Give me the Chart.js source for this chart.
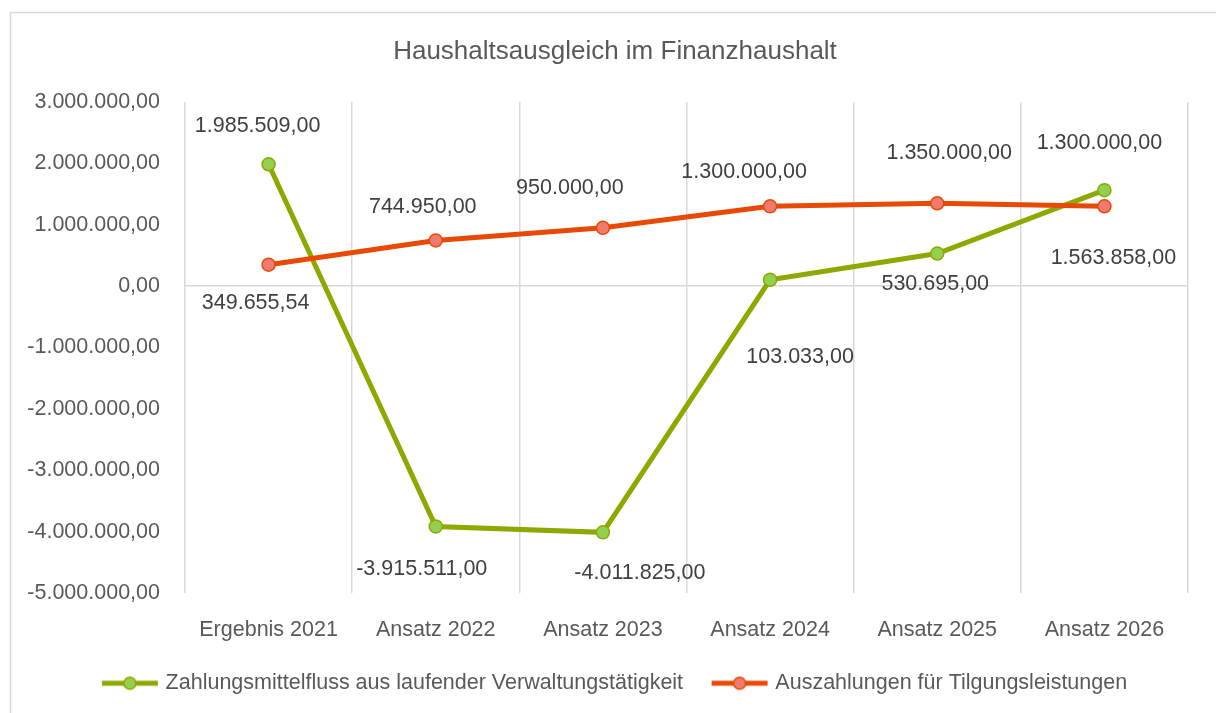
<!DOCTYPE html>
<html>
<head>
<meta charset="utf-8">
<script src="https://cdn.jsdelivr.net/npm/chart.js@4/dist/chart.umd.min.js"></script>
<style>
html,body{margin:0;padding:0;background:#fff;}
#wrap{position:relative;width:1216px;height:713px;}
</style>
</head>
<body>
<div id="wrap"><canvas id="c" width="1216" height="713"></canvas></div>
<script>
// ---- data ----
const categories = ['Ergebnis 2021','Ansatz 2022','Ansatz 2023','Ansatz 2024','Ansatz 2025','Ansatz 2026'];
const zahlungsmittelfluss = [1985509.00, -3915511.00, -4011825.00, 103033.00, 530695.00, 1563858.00];
const tilgungsleistungen = [349655.54, 744950.00, 950000.00, 1300000.00, 1350000.00, 1300000.00];
const seriesNames = ['Zahlungsmittelfluss aus laufender Verwaltungstätigkeit', 'Auszahlungen für Tilgungsleistungen'];
const yMin = -5000000, yMax = 3000000, yStep = 1000000;

// label placement offsets (pixels relative to point)
const greenLabelOffsets = [[-11,-38],[-14,43],[37,41],[30,77],[-2,31],[9,68]];
const orangeLabelOffsets = [[-13,38],[-13,-33],[-33,-40],[-26,-34],[12,-50],[-5,-63]];

const FONT = "'Liberation Sans', Arial, sans-serif";
const FS = 21.5;
const GREEN = '#8FA800', GREEN_FILL = '#92D050';
const ORANGE = '#E84A05', ORANGE_FILL = '#EE7B6E';
const fmt = v => v.toLocaleString('de-DE', {minimumFractionDigits: 2, maximumFractionDigits: 2});

function legendIcon(line, fill) {
  const cv = document.createElement('canvas');
  cv.width = 58; cv.height = 16;
  const g = cv.getContext('2d');
  g.strokeStyle = line; g.lineWidth = 5; g.lineCap = 'butt';
  g.beginPath(); g.moveTo(1, 8); g.lineTo(57, 8); g.stroke();
  g.beginPath(); g.arc(29, 8, 6, 0, Math.PI*2);
  g.fillStyle = fill; g.fill(); g.lineWidth = 1.5; g.strokeStyle = line; g.stroke();
  return cv;
}
const icons = [legendIcon(GREEN, GREEN_FILL), legendIcon(ORANGE, ORANGE_FILL)];
const labelOffsets = [greenLabelOffsets, orangeLabelOffsets];

const framePlugin = {
  id: 'frame',
  afterLayout(chart) {
    if (chart.legend) { chart.legend.left += 17; chart.legend.right += 17; }
    if (chart.titleBlock) { chart.titleBlock.left += 16; chart.titleBlock.right += 16; }
  },
  beforeDraw(chart) {
    const ctx = chart.ctx;
    ctx.save();
    ctx.strokeStyle = '#d9d9d9'; ctx.lineWidth = 1.5;
    ctx.strokeRect(10.5, 12.5, 1400, 900);
    ctx.restore();
  }
};
const labelPlugin = {
  id: 'valueLabels',
  afterDatasetsDraw(chart) {
    const ctx = chart.ctx;
    ctx.save();
    ctx.font = FS + 'px ' + FONT;
    ctx.fillStyle = '#404040';
    ctx.textAlign = 'center'; ctx.textBaseline = 'middle';
    chart.data.datasets.forEach((ds, di) => {
      const meta = chart.getDatasetMeta(di);
      meta.data.forEach((pt, i) => {
        const off = labelOffsets[di][i];
        ctx.fillText(fmt(ds.data[i]), pt.x + off[0], pt.y + off[1]);
      });
    });
    ctx.restore();
  }
};

new Chart(document.getElementById('c'), {
  type: 'line',
  data: {
    labels: categories,
    datasets: [
      { label: seriesNames[0], data: zahlungsmittelfluss, borderColor: GREEN, backgroundColor: GREEN_FILL,
        borderWidth: 5, pointRadius: 6.5, pointBorderWidth: 1.5, pointBorderColor: GREEN, pointBackgroundColor: GREEN_FILL,
        tension: 0, order: 1 },
      { label: seriesNames[1], data: tilgungsleistungen, borderColor: ORANGE, backgroundColor: ORANGE_FILL,
        borderWidth: 5, pointRadius: 6.5, pointBorderWidth: 1.5, pointBorderColor: ORANGE, pointBackgroundColor: ORANGE_FILL,
        tension: 0, order: 0 }
    ]
  },
  options: {
    responsive: false,
    animation: false,
    layout: { padding: { left: 10, right: 28, top: 0, bottom: 9 } },
    plugins: {
      title: { display: true, text: 'Haushaltsausgleich im Finanzhaushalt', color: '#595959',
        font: { family: FONT, size: 26, weight: 'normal' }, padding: { top: 36.4, bottom: 34.4 } },
      legend: { position: 'bottom',
        labels: { usePointStyle: true, pointStyleWidth: 50, color: '#595959', padding: 31.5,
          font: { family: FONT, size: FS },
          generateLabels: (chart) => chart.data.datasets.map((ds, i) => ({
            text: ds.label, pointStyle: icons[i], fillStyle: ds.backgroundColor, strokeStyle: ds.borderColor,
            lineWidth: 0, hidden: false, datasetIndex: i, fontColor: '#595959'
          }))
        } },
      tooltip: { enabled: false }
    },
    scales: {
      x: {
        offset: true,
        afterFit: (s) => { s.height = 48; },
        grid: { offset: true, color: '#d9d9d9', lineWidth: 1.5, drawTicks: false },
        border: { display: false },
        ticks: { color: '#595959', font: { family: FONT, size: FS }, padding: 24, maxRotation: 0 }
      },
      y: {
        min: yMin, max: yMax,
        afterFit: (s) => { s.width = 175; },
        grid: { drawTicks: false, lineWidth: 1.5, color: (c) => (c.tick && c.tick.value === 0) ? '#d9d9d9' : 'rgba(0,0,0,0)' },
        border: { display: false },
        ticks: { stepSize: yStep, color: '#595959', font: { family: FONT, size: FS }, padding: 25,
          callback: (v) => fmt(v) }
      }
    }
  },
  plugins: [framePlugin, labelPlugin]
});
</script>
</body>
</html>
